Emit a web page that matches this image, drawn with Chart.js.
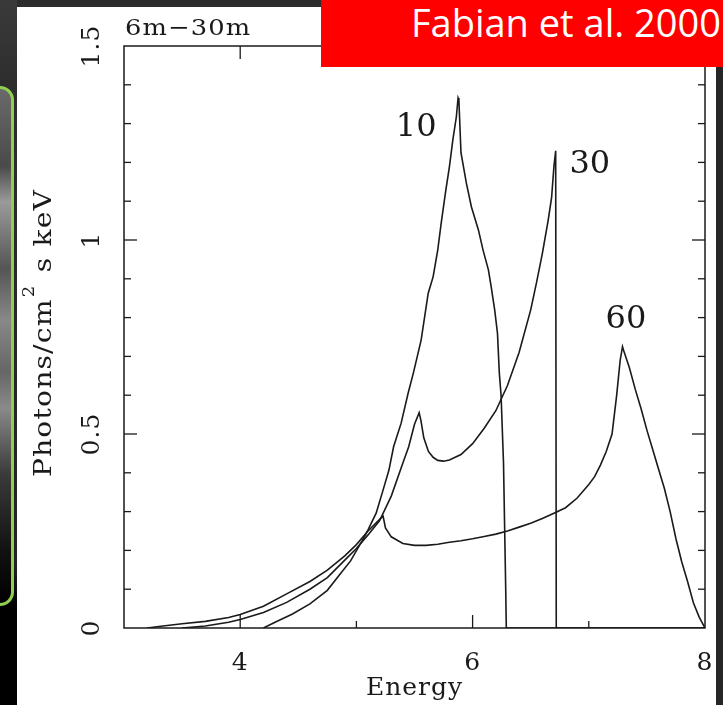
<!DOCTYPE html>
<html><head><meta charset="utf-8">
<script src="https://cdn.jsdelivr.net/npm/chart.js@4.4.0/dist/chart.umd.min.js"></script>
<style>
html,body{margin:0;padding:0;}
body{width:723px;height:705px;position:relative;overflow:hidden;background:#2c2c2c;}
#leftbg{position:absolute;left:0;top:0;width:17px;height:705px;background:linear-gradient(#3a3a3a 0%,#2e2e2e 12%,#222 80%,#000 86%,#000 100%);}
#green{position:absolute;left:-20px;top:86px;width:28px;height:514px;border:3px solid #8fd14f;border-radius:14px;
 background:linear-gradient(#6a6a6a 0%,#4a4a4a 15%,#9a9a9a 22%,#555 35%,#888 45%,#666 55%,#8a8a8a 62%,#3a3a3a 75%,#111 90%,#000 100%);}
#rightbg{position:absolute;left:716px;top:0;width:7px;height:705px;background:#262626;}
#panel{position:absolute;left:17px;top:7px;width:699px;height:698px;background:#fff;}
#badge{position:absolute;left:321px;top:0;width:402px;height:67px;background:#ff0000;}
#badge span{position:absolute;right:2px;top:4px;color:#fff;font-family:"Open Sans",sans-serif;font-size:38px;line-height:36px;white-space:nowrap;}
canvas{display:block;}
</style></head>
<body>
<div id="leftbg"></div>
<div id="green"></div>
<div id="rightbg"></div>
<div id="panel"><canvas id="c" width="699" height="698"></canvas></div>
<div id="badge"><span>Fabian et al. 2000</span></div>
<script>
// Line profile for inclination 10
const energy10 = [4.2, 4.3, 4.45, 4.6, 4.75, 4.85, 4.95, 5.05, 5.1, 5.17, 5.23, 5.28, 5.32, 5.385, 5.445, 5.49, 5.557, 5.618, 5.66, 5.7, 5.73, 5.77, 5.8, 5.83, 5.86, 5.875, 5.882, 5.9, 5.946, 5.99, 6.05, 6.09, 6.136, 6.16, 6.19, 6.214, 6.23, 6.245, 6.266, 6.285, 6.29, 8.0];
const flux10   = [0, 0.015, 0.036, 0.062, 0.097, 0.135, 0.173, 0.225, 0.253, 0.296, 0.356, 0.407, 0.467, 0.528, 0.605, 0.657, 0.742, 0.863, 0.905, 0.974, 1.044, 1.129, 1.188, 1.258, 1.317, 1.366, 1.36, 1.225, 1.147, 1.085, 1.026, 0.974, 0.923, 0.879, 0.82, 0.76, 0.657, 0.6, 0.425, 0.1, 0, 0];
// inclination 30
const energy30 = [3.5, 3.7, 3.9, 4.0, 4.2, 4.4, 4.6, 4.75, 4.9, 5.0, 5.1, 5.2, 5.3, 5.4, 5.45, 5.5, 5.54, 5.555, 5.58, 5.62, 5.66, 5.7, 5.75, 5.8, 5.9, 6.0, 6.1, 6.2, 6.3, 6.4, 6.5, 6.55, 6.6, 6.65, 6.68, 6.7, 6.715, 6.72, 8.0];
const flux30   = [0, 0.005, 0.015, 0.022, 0.04, 0.066, 0.1, 0.13, 0.175, 0.205, 0.24, 0.277, 0.34, 0.425, 0.467, 0.525, 0.555, 0.535, 0.49, 0.455, 0.44, 0.432, 0.43, 0.433, 0.447, 0.475, 0.515, 0.56, 0.625, 0.71, 0.82, 0.89, 0.965, 1.05, 1.11, 1.19, 1.23, 0, 0];
// inclination 60
const energy60 = [3.2, 3.3, 3.5, 3.7, 3.9, 4.0, 4.2, 4.4, 4.6, 4.75, 4.9, 5.0, 5.1, 5.2, 5.23, 5.25, 5.3, 5.4, 5.5, 5.6, 5.7, 5.8, 5.9, 6.0, 6.1, 6.2, 6.3, 6.4, 6.5, 6.6, 6.7, 6.8, 6.9, 7.0, 7.05, 7.1, 7.15, 7.2, 7.24, 7.27, 7.29, 7.3, 7.35, 7.4, 7.45, 7.5, 7.55, 7.6, 7.65, 7.7, 7.75, 7.8, 7.85, 7.9, 7.95, 8.0];
const flux60   = [0, 0.004, 0.011, 0.017, 0.027, 0.035, 0.056, 0.088, 0.12, 0.149, 0.186, 0.215, 0.25, 0.28, 0.288, 0.258, 0.235, 0.218, 0.213, 0.213, 0.216, 0.221, 0.225, 0.23, 0.236, 0.242, 0.25, 0.26, 0.27, 0.282, 0.296, 0.31, 0.335, 0.37, 0.39, 0.42, 0.455, 0.5, 0.6, 0.69, 0.725, 0.715, 0.67, 0.615, 0.565, 0.51, 0.46, 0.41, 0.36, 0.3, 0.23, 0.17, 0.12, 0.065, 0.028, 0];

const curveNames = ['10', '30', '60'];
const curveLabelE = [5.514, 7.009, 7.32];
const curveLabelF = [1.289, 1.193, 0.794];
const xTickLabels = [4, 6, 8];
const yTickLabels = [0, 0.5, 1, 1.5];
const panelTitle = '6m\u221230m';
const yTitleParts = ['Photons/cm', '2', ' s keV'];

const serif = '"DejaVu Serif", serif';
const ink = '#1a1a1a';
const toPts = (xs, ys) => xs.map((v, i) => ({x: v, y: ys[i]}));

const decor = {
  id: 'decor',
  beforeDraw(chart) { chart.ctx.letterSpacing = '1px'; },
  afterDatasetsDraw(chart) {
    const {ctx, chartArea: a, scales: {x, y}} = chart;
    ctx.save();
    ctx.letterSpacing = '0px';
    ctx.strokeStyle = ink;
    ctx.lineWidth = 1.5;
    ctx.strokeRect(a.left, a.top, a.right - a.left, a.bottom - a.top);
    ctx.lineWidth = 1.3;
    const seg = (x1, y1, x2, y2) => { ctx.beginPath(); ctx.moveTo(x1, y1); ctx.lineTo(x2, y2); ctx.stroke(); };
    x.ticks.forEach(t => {
      const v = t.value;
      if (v <= x.min + 1e-9 || v >= x.max - 1e-9) return;
      const p = x.getPixelForValue(v);
      const L = Math.abs(v % 2) < 1e-6 ? 13 : 7;
      seg(p, a.bottom, p, a.bottom - L);
      seg(p, a.top, p, a.top + L);
    });
    y.ticks.forEach(t => {
      const v = t.value;
      if (v <= y.min + 1e-9 || v >= y.max - 1e-9) return;
      const p = y.getPixelForValue(v);
      const L = Math.abs(v * 2 - Math.round(v * 2)) < 1e-6 ? 13 : 7;
      seg(a.left, p, a.left + L, p);
      seg(a.right, p, a.right - L, p);
    });
    ctx.fillStyle = ink;
    // curve labels
    ctx.font = '32px ' + serif;
    ctx.textAlign = 'center';
    ctx.textBaseline = 'middle';
    curveNames.forEach((n, i) => {
      ctx.fillText(n, x.getPixelForValue(curveLabelE[i]), y.getPixelForValue(curveLabelF[i]));
    });
    // panel title (slightly widened like the original font)
    ctx.save();
    ctx.font = '23px ' + serif;
    ctx.letterSpacing = '1px';
    ctx.textAlign = 'left';
    ctx.textBaseline = 'alphabetic';
    ctx.translate(a.left + 1, a.top - 11);
    ctx.scale(1.12, 1);
    ctx.fillText(panelTitle, 0, 0);
    ctx.restore();
    // y axis title (rotated, with superscript)
    ctx.save();
    ctx.letterSpacing = '1px';
    ctx.textAlign = 'left';
    ctx.textBaseline = 'alphabetic';
    const big = '25px ' + serif, small = '16px ' + serif;
    ctx.font = big; const w1 = ctx.measureText(yTitleParts[0]).width;
    ctx.font = small; const w2 = ctx.measureText(yTitleParts[1]).width + 3;
    ctx.font = big; const w3 = ctx.measureText(yTitleParts[2]).width;
    const total = w1 + w2 + w3;
    ctx.translate(34, 326);
    ctx.rotate(-Math.PI / 2);
    ctx.scale(1.13, 1);
    let cx = -total / 2;
    ctx.font = big; ctx.fillText(yTitleParts[0], cx, 0); cx += w1;
    ctx.font = small; ctx.fillText(yTitleParts[1], cx + 1, -17); cx += w2;
    ctx.font = big; ctx.fillText(yTitleParts[2], cx, 0);
    ctx.restore();
    ctx.restore();
  }
};

const lineStyle = {borderColor: ink, borderWidth: 1.6, pointRadius: 0, fill: false, tension: 0};

new Chart(document.getElementById('c'), {
  type: 'line',
  data: {
    datasets: [
      Object.assign({label: curveNames[0], data: toPts(energy10, flux10)}, lineStyle),
      Object.assign({label: curveNames[1], data: toPts(energy30, flux30)}, lineStyle),
      Object.assign({label: curveNames[2], data: toPts(energy60, flux60)}, lineStyle)
    ]
  },
  options: {
    responsive: false,
    devicePixelRatio: 1,
    animation: false,
    layout: {padding: {left: 0, top: 39, right: 11, bottom: 0}},
    plugins: {legend: {display: false}, tooltip: {enabled: false}},
    scales: {
      x: {
        type: 'linear', min: 3, max: 8,
        grid: {display: false}, border: {display: false},
        ticks: {
          stepSize: 1, autoSkip: false, maxRotation: 0, padding: 12,
          color: ink, font: {family: serif, size: 25},
          callback: v => xTickLabels.includes(v) ? String(v) : ''
        },
        title: {display: true, text: 'Energy', color: ink, font: {family: serif, size: 25}, padding: {top: 0, bottom: 2}},
        afterFit: s => { s.height = 77; s.paddingLeft = 0; s.paddingRight = 0; }
      },
      y: {
        type: 'linear', min: 0, max: 1.5,
        grid: {display: false}, border: {display: false},
        ticks: {
          stepSize: 0.1, autoSkip: false, minRotation: 90, maxRotation: 90, padding: 4, crossAlign: 'center',
          color: ink, font: {family: serif, size: 25},
          callback: v => { const r = Math.round(v * 10) / 10; return yTickLabels.includes(r) ? String(r) : ''; }
        },
        title: {display: false},
        afterFit: s => { s.width = 107; s.paddingTop = 0; s.paddingBottom = 0; }
      }
    }
  },
  plugins: [decor]
});
</script>
</body></html>
